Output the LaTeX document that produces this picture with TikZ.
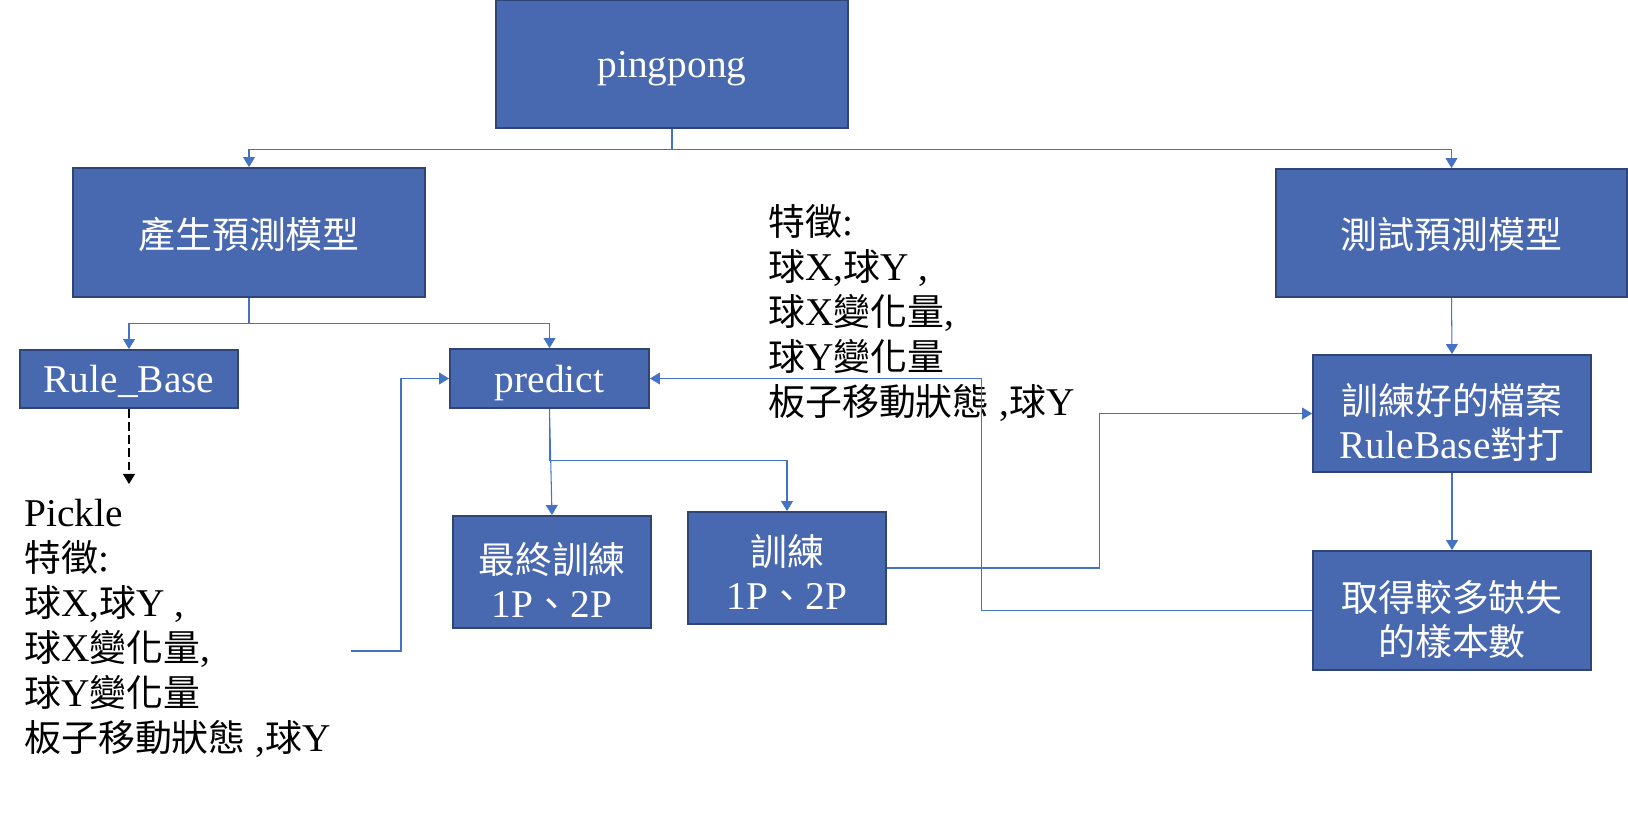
\documentclass[tikz,border=0pt]{standalone}
\usepackage{fontspec}
\setmainfont{Liberation Serif}[Scale=1.12]
\newfontfamily\cjk{Noto Sans CJK TC}[Scale=1.05]
\usetikzlibrary{arrows.meta}
\definecolor{boxfill}{RGB}{72,104,175}
\definecolor{boxline}{RGB}{47,69,118}
\definecolor{linkcol}{RGB}{68,114,196}
\newcommand{\zh}[1]{{\cjk #1}}
\newcommand{\topgap}[1][28pt]{\rule{0pt}{#1}}

\begin{document}
\begin{tikzpicture}[x=0.02cm, y=-0.02cm]
  \tikzstyle{boxbase} = [rectangle, draw=boxline, fill=boxfill, line width=1.1pt, text=white,
    align=center, inner sep=0pt]
  \tikzstyle{box} = [boxbase, text depth=-3pt, font=\fontsize{20}{23}\selectfont]
  \tikzstyle{box2} = [boxbase, font=\fontsize{20}{25}\selectfont]
  \tikzstyle{txt} = [align=left, inner sep=0pt, font=\fontsize{20}{25.6}\selectfont]
  \tikzstyle{link} = [draw=linkcol, line width=0.6pt, -{Triangle[length=5.7pt,width=6.8pt]}]
  \useasboundingbox (0,0) rectangle (1628,818);

  \node[box, minimum width=7.04cm, minimum height=2.56cm] (ping) at (672,64) {pingpong};
  \node[box, minimum width=7.04cm, minimum height=2.58cm] (gen) at (249,232.5) {\zh{產生預測模型}};
  \node[box, minimum width=7.02cm, minimum height=2.56cm] (test) at (1451.5,233) {\zh{測試預測模型}};
  \node[box, minimum width=4.36cm, minimum height=1.16cm] (rule) at (129,379) {Rule\_Base};
  \node[box, minimum width=3.98cm, minimum height=1.18cm] (predict) at (549.5,378.5) {predict};
  \node[box2, minimum width=3.96cm, minimum height=2.24cm] (final) at (552,572) {\topgap[27pt]\zh{最終訓練}\\1P\zh{、}2P};
  \node[box2, minimum width=3.96cm, minimum height=2.24cm] (train) at (787,568) {\topgap[22pt]\zh{訓練}\\1P\zh{、}2P};
  \node[box2, minimum width=5.56cm, minimum height=2.34cm] (trained) at (1452,413.5) {\topgap\zh{訓練好的檔案}\\RuleBase\zh{對打}};
  \node[box2, minimum width=5.56cm, minimum height=2.38cm] (fetch) at (1452,610.5) {\topgap\zh{取得較多缺失}\\\zh{的樣本數}};

  \node[txt, anchor=north west] (feat) at (768,204) {\zh{特徵}:\\\zh{球}X,\zh{球}Y ,\\\zh{球}X\zh{變化量},\\\zh{球}Y\zh{變化量}\\\zh{板子移動狀態} ,\zh{球}Y};
  \node[txt, anchor=north west] (pickle) at (24,499) {Pickle\\\zh{特徵}:\\\zh{球}X,\zh{球}Y ,\\\zh{球}X\zh{變化量},\\\zh{球}Y\zh{變化量}\\\zh{板子移動狀態} ,\zh{球}Y};
  \coordinate (dashend) at (129,484);
  \coordinate (pkout) at (351,651);

  \draw[link] (ping.south) -- ++(0,21) -| (gen.north);
  \draw[link] (ping.south) -- ++(0,21) -| (test.north);
  \draw[link] (gen.south) -- ++(0,26) -| (rule.north);
  \draw[link] (gen.south) -- ++(0,26) -| (predict.north);
  \draw[dash pattern=on 5pt off 2.5pt, line width=0.6pt, -{Triangle[length=5.7pt,width=6.8pt]}] (rule.south) -- (dashend);
  \draw[link] (pkout) -- ++(50,0) |- (predict.west);
  \draw[link] (predict.south) -- (final.north);
  \draw[link] (predict.south) -- ++(0,52) -| (train.north);
  \draw[link] (train.east) -- ++(213,0) |- (trained.west);
  \draw[link] (fetch.west) -- ++(-331,0) |- (predict.east);
  \draw[link] (test.south) -- (trained.north);
  \draw[link] (trained.south) -- (fetch.north);
\end{tikzpicture}
\end{document}
